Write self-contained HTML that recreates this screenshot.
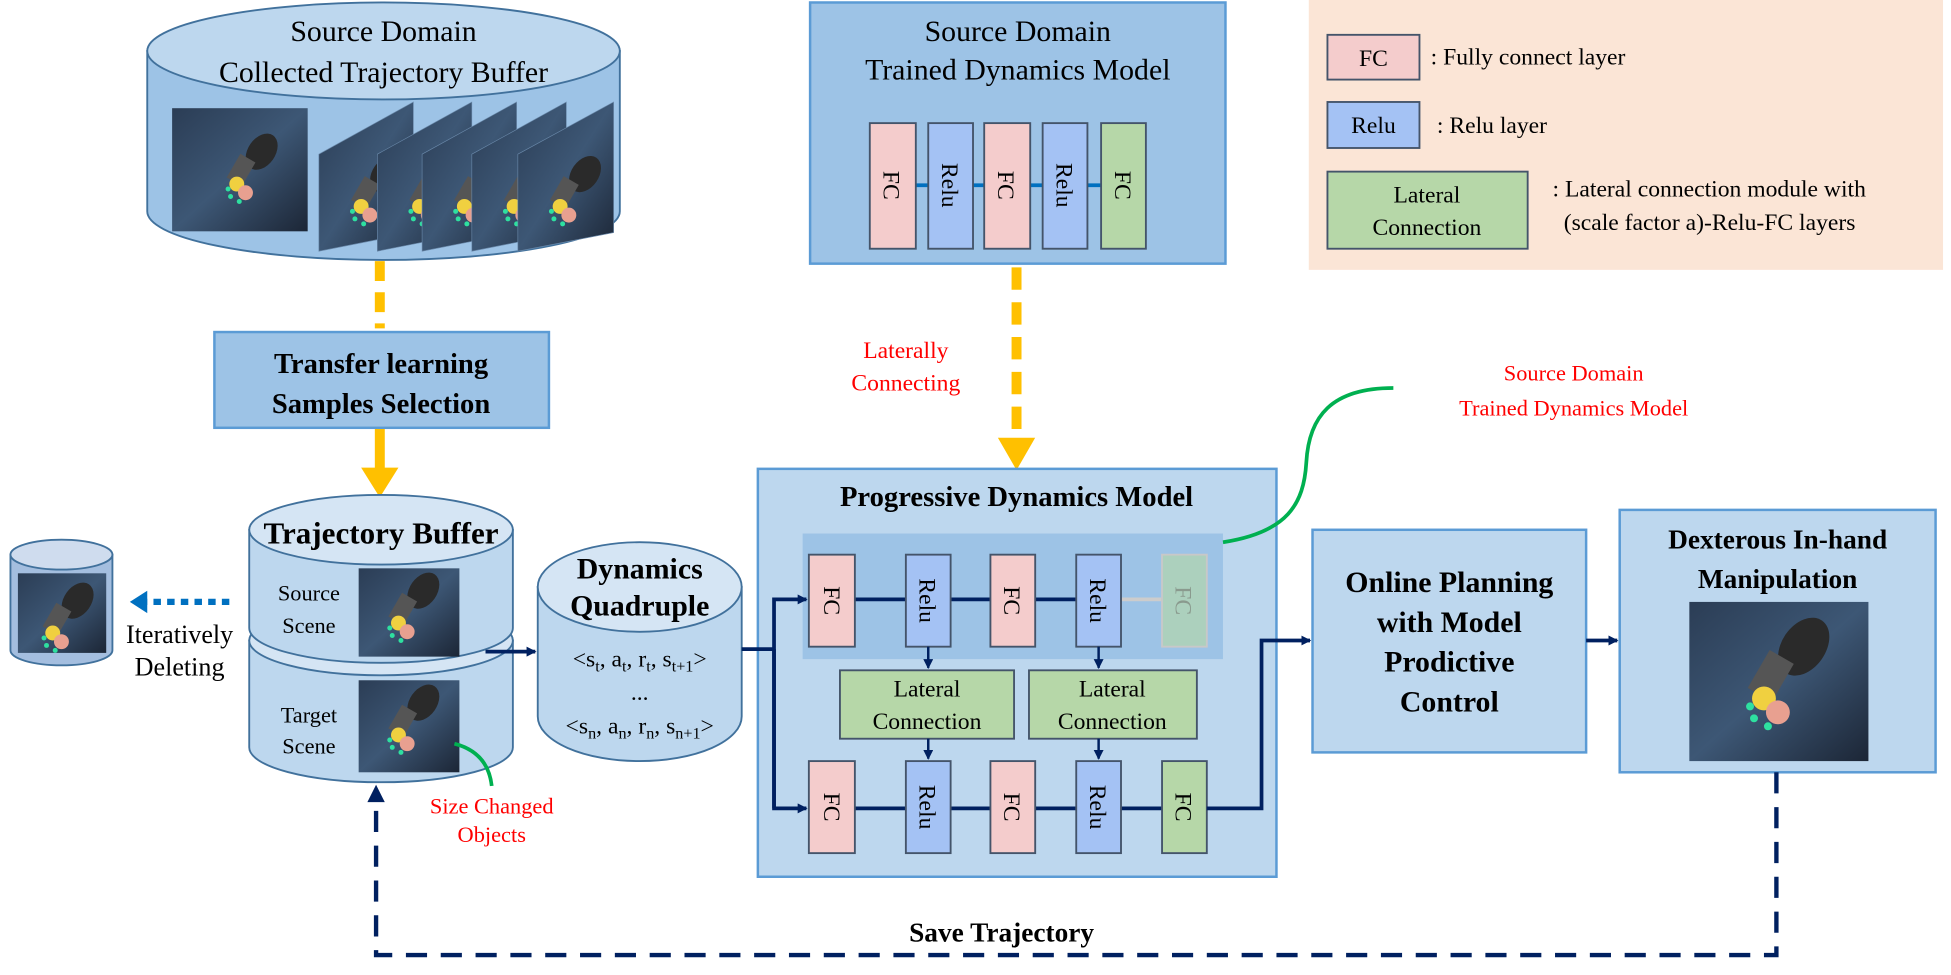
<!DOCTYPE html>
<html><head><meta charset="utf-8"><style>
html,body{margin:0;padding:0;background:#fff;}
svg{display:block;}
text{font-family:"Liberation Serif",serif;}
</style></head><body>
<svg width="1951" height="975" viewBox="0 0 1568 784" xmlns="http://www.w3.org/2000/svg">
<defs>
<linearGradient id="img" x1="0" y1="0" x2="1" y2="1">
<stop offset="0" stop-color="#2b3d55"/><stop offset="0.5" stop-color="#3d5775"/><stop offset="1" stop-color="#1c2636"/>
</linearGradient>
<g id="hand">
<ellipse cx="0" cy="0" rx="11" ry="16" fill="#2a2a2a" transform="rotate(35)"/>
<rect x="-14" y="10" width="14" height="22" fill="#555" transform="rotate(30)"/>
<circle cx="-20" cy="26" r="6" fill="#f0d040"/>
<circle cx="-13" cy="33" r="6" fill="#e8a090"/>
<circle cx="-27" cy="30" r="2" fill="#2ee0a0"/><circle cx="-25" cy="36" r="2" fill="#2ee0a0"/><circle cx="-18" cy="40" r="2" fill="#2ee0a0"/>
</g>
<marker id="ah" markerWidth="8" markerHeight="8" refX="7" refY="4" orient="auto" markerUnits="userSpaceOnUse"><path d="M0,0 L8,4 L0,8 z" fill="#002060"/></marker>
</defs>

<!-- Top cylinder -->
<path d="M118,41 L118,170 A190,39 0 0 0 498,170 L498,41 Z" fill="#9dc3e6" stroke="#41719c" stroke-width="1.5"/>
<ellipse cx="308" cy="41" rx="190" ry="39" fill="#bdd7ee" stroke="#41719c" stroke-width="1.5"/>
<text x="308" y="33" font-size="24" text-anchor="middle">Source Domain</text>
<text x="308" y="66" font-size="24" text-anchor="middle">Collected Trajectory Buffer</text>
<rect x="138" y="87" width="109" height="99" fill="url(#img)"/>
<use href="#hand" x="210" y="122"/>
<g>
<polygon points="256,124 332,82 332,187 256,202" fill="url(#img)" stroke="#6a89aa" stroke-width="0.5"/><use href="#hand" x="310" y="140"/>
<polygon points="303,124 379,82 379,187 303,202" fill="url(#img)" stroke="#6a89aa" stroke-width="0.5"/><use href="#hand" x="357" y="140"/>
<polygon points="339,124 415,82 415,187 339,202" fill="url(#img)" stroke="#6a89aa" stroke-width="0.5"/><use href="#hand" x="393" y="140"/>
<polygon points="379,124 455,82 455,187 379,202" fill="url(#img)" stroke="#6a89aa" stroke-width="0.5"/><use href="#hand" x="433" y="140"/>
<polygon points="416,124 493,82 493,187 416,202" fill="url(#img)" stroke="#6a89aa" stroke-width="0.5"/><use href="#hand" x="470" y="140"/>
</g>

<!-- yellow dashed to transfer box -->
<line x1="305" y1="210" x2="305" y2="264" stroke="#ffc000" stroke-width="8" stroke-dasharray="16,9"/>
<rect x="172" y="267" width="269" height="77" fill="#9dc3e6" stroke="#5b9bd5" stroke-width="2"/>
<text x="306" y="300" font-size="23" font-weight="bold" text-anchor="middle">Transfer learning</text>
<text x="306" y="332" font-size="23" font-weight="bold" text-anchor="middle">Samples Selection</text>
<line x1="305" y1="345" x2="305" y2="378" stroke="#ffc000" stroke-width="8"/>
<polygon points="290,376 320,376 305,400" fill="#ffc000"/>

<!-- small cylinder -->
<path d="M8,446 L8,523 A41,12 0 0 0 90,523 L90,446 Z" fill="#a4bedf" stroke="#41719c" stroke-width="1.5"/>
<ellipse cx="49" cy="446" rx="41" ry="12" fill="#cfdcee" stroke="#41719c" stroke-width="1.5"/>
<rect x="14" y="461" width="71" height="64" fill="url(#img)"/>
<use href="#hand" x="62" y="483"/>
<line x1="184" y1="484" x2="117" y2="484" stroke="#0070c0" stroke-width="5" stroke-dasharray="6,5"/>
<polygon points="118,475 118,493 104,484" fill="#0070c0"/>
<text x="144" y="517" font-size="21" text-anchor="middle">Iteratively</text>
<text x="144" y="543" font-size="21" text-anchor="middle">Deleting</text>

<!-- Trajectory buffer lower cylinder -->
<path d="M200,515 L200,601 A106,28 0 0 0 412,601 L412,515 Z" fill="#bdd7ee" stroke="#41719c" stroke-width="1.5"/>
<ellipse cx="306" cy="515" rx="106" ry="28" fill="#d5e5f4" stroke="#41719c" stroke-width="1.5"/>
<!-- upper cylinder -->
<path d="M200,426 L200,505 A106,28 0 0 0 412,505 L412,426 Z" fill="#bdd7ee" stroke="#41719c" stroke-width="1.5"/>
<ellipse cx="306" cy="426" rx="106" ry="28" fill="#d5e5f4" stroke="#41719c" stroke-width="1.5"/>
<text x="306" y="437" font-size="25" font-weight="bold" text-anchor="middle">Trajectory Buffer</text>
<text x="248" y="483" font-size="18" text-anchor="middle">Source</text>
<text x="248" y="509" font-size="18" text-anchor="middle">Scene</text>
<rect x="288" y="457" width="81" height="71" fill="url(#img)"/>
<use href="#hand" x="340" y="475"/>
<text x="248" y="581" font-size="18" text-anchor="middle">Target</text>
<text x="248" y="606" font-size="18" text-anchor="middle">Scene</text>
<rect x="288" y="547" width="81" height="74" fill="url(#img)"/>
<use href="#hand" x="340" y="565"/>
<path d="M365,598 Q392,605 395,632" fill="none" stroke="#00b050" stroke-width="3"/>
<text x="395" y="654" font-size="18" fill="#ff0000" text-anchor="middle">Size Changed</text>
<text x="395" y="677" font-size="18" fill="#ff0000" text-anchor="middle">Objects</text>

<line x1="390" y1="524" x2="430" y2="524" stroke="#002060" stroke-width="3" marker-end="url(#ah)"/>

<!-- Dynamics quadruple -->
<path d="M432,472 L432,576 A82,36 0 0 0 596,576 L596,472 Z" fill="#bdd7ee" stroke="#41719c" stroke-width="1.5"/>
<ellipse cx="514" cy="472" rx="82" ry="36" fill="#d5e5f4" stroke="#41719c" stroke-width="1.5"/>
<text x="514" y="465" font-size="24" font-weight="bold" text-anchor="middle">Dynamics</text>
<text x="514" y="495" font-size="24" font-weight="bold" text-anchor="middle">Quadruple</text>
<text x="514" y="536" font-size="19" text-anchor="middle">&lt;s<tspan font-size="13" dy="4">t</tspan><tspan dy="-4">, a</tspan><tspan font-size="13" dy="4">t</tspan><tspan dy="-4">, r</tspan><tspan font-size="13" dy="4">t</tspan><tspan dy="-4">, s</tspan><tspan font-size="13" dy="4">t+1</tspan><tspan dy="-4">&gt;</tspan></text>
<text x="514" y="563" font-size="19" text-anchor="middle">...</text>
<text x="514" y="590" font-size="19" text-anchor="middle">&lt;s<tspan font-size="13" dy="4">n</tspan><tspan dy="-4">, a</tspan><tspan font-size="13" dy="4">n</tspan><tspan dy="-4">, r</tspan><tspan font-size="13" dy="4">n</tspan><tspan dy="-4">, s</tspan><tspan font-size="13" dy="4">n+1</tspan><tspan dy="-4">&gt;</tspan></text>

<!-- Top source trained model box -->
<rect x="651" y="2" width="334" height="210" fill="#9dc3e6" stroke="#5b9bd5" stroke-width="2"/>
<text x="818" y="33" font-size="24" text-anchor="middle">Source Domain</text>
<text x="818" y="64" font-size="24" text-anchor="middle">Trained Dynamics Model</text>
<line x1="736" y1="149" x2="885" y2="149" stroke="#0070c0" stroke-width="3"/>
<g stroke="#44546a" stroke-width="1.5">
<rect x="699" y="99" width="37" height="101" fill="#f4cccc"/>
<rect x="746" y="99" width="36" height="101" fill="#a4c2f4"/>
<rect x="791" y="99" width="37" height="101" fill="#f4cccc"/>
<rect x="838" y="99" width="36" height="101" fill="#a4c2f4"/>
<rect x="885" y="99" width="36" height="101" fill="#b6d7a8"/>
</g>
<g font-size="19">
<text transform="translate(710,149) rotate(90)" text-anchor="middle">FC</text>
<text transform="translate(757,149) rotate(90)" text-anchor="middle">Relu</text>
<text transform="translate(802,149) rotate(90)" text-anchor="middle">FC</text>
<text transform="translate(849,149) rotate(90)" text-anchor="middle">Relu</text>
<text transform="translate(896,149) rotate(90)" text-anchor="middle">FC</text>
</g>

<line x1="817" y1="215" x2="817" y2="352" stroke="#ffc000" stroke-width="8" stroke-dasharray="18,10"/>
<polygon points="802,352 832,352 817,378" fill="#ffc000"/>
<text x="728" y="288" font-size="19" fill="#ff0000" text-anchor="middle">Laterally</text>
<text x="728" y="314" font-size="19" fill="#ff0000" text-anchor="middle">Connecting</text>

<!-- Progressive box -->
<rect x="609" y="377" width="417" height="328" fill="#bdd7ee" stroke="#5b9bd5" stroke-width="2"/>
<text x="817" y="407" font-size="23" font-weight="bold" text-anchor="middle">Progressive Dynamics Model</text>
<rect x="645" y="429" width="338" height="101" fill="#9dc3e6"/>
<line x1="687" y1="482" x2="865" y2="482" stroke="#002060" stroke-width="3"/>
<line x1="901" y1="482" x2="934" y2="482" stroke="#cccccc" stroke-width="3"/>
<line x1="687" y1="650" x2="934" y2="650" stroke="#002060" stroke-width="3"/>
<polyline points="596,522 622,522" fill="none" stroke="#002060" stroke-width="3"/>
<polyline points="622,650 622,482 648,482" fill="none" stroke="#002060" stroke-width="3" marker-end="url(#ah)"/>
<polyline points="622,522 622,650 648,650" fill="none" stroke="#002060" stroke-width="3" marker-end="url(#ah)"/>
<g stroke="#44546a" stroke-width="1.5">
<rect x="650" y="446" width="37" height="74" fill="#f4cccc"/>
<rect x="728" y="446" width="36" height="74" fill="#a4c2f4"/>
<rect x="796" y="446" width="36" height="74" fill="#f4cccc"/>
<rect x="865" y="446" width="36" height="74" fill="#a4c2f4"/>
<rect x="934" y="446" width="36" height="74" fill="#acd0bd" stroke="#c8c8c8"/>
<rect x="650" y="612" width="37" height="74" fill="#f4cccc"/>
<rect x="728" y="612" width="36" height="74" fill="#a4c2f4"/>
<rect x="796" y="612" width="36" height="74" fill="#f4cccc"/>
<rect x="865" y="612" width="36" height="74" fill="#a4c2f4"/>
<rect x="934" y="612" width="36" height="74" fill="#b6d7a8"/>
<rect x="675" y="539" width="140" height="55" fill="#b6d7a8"/>
<rect x="827" y="539" width="135" height="55" fill="#b6d7a8"/>
</g>
<g stroke="#002060" stroke-width="2">
<line x1="746" y1="520" x2="746" y2="537" marker-end="url(#ah)"/>
<line x1="746" y1="594" x2="746" y2="610" marker-end="url(#ah)"/>
<line x1="883" y1="520" x2="883" y2="537" marker-end="url(#ah)"/>
<line x1="883" y1="594" x2="883" y2="610" marker-end="url(#ah)"/>
</g>
<g font-size="19">
<text transform="translate(662,483) rotate(90)" text-anchor="middle">FC</text>
<text transform="translate(739,483) rotate(90)" text-anchor="middle">Relu</text>
<text transform="translate(807,483) rotate(90)" text-anchor="middle">FC</text>
<text transform="translate(876,483) rotate(90)" text-anchor="middle">Relu</text>
<text transform="translate(945,483) rotate(90)" text-anchor="middle" fill="#8a9a8e">FC</text>
<text transform="translate(662,649) rotate(90)" text-anchor="middle">FC</text>
<text transform="translate(739,649) rotate(90)" text-anchor="middle">Relu</text>
<text transform="translate(807,649) rotate(90)" text-anchor="middle">FC</text>
<text transform="translate(876,649) rotate(90)" text-anchor="middle">Relu</text>
<text transform="translate(945,649) rotate(90)" text-anchor="middle">FC</text>
<text x="745" y="560" text-anchor="middle">Lateral</text>
<text x="745" y="586" text-anchor="middle">Connection</text>
<text x="894" y="560" text-anchor="middle">Lateral</text>
<text x="894" y="586" text-anchor="middle">Connection</text>
</g>
<polyline points="970,650 1014,650 1014,515 1053,515" fill="none" stroke="#002060" stroke-width="3" marker-end="url(#ah)"/>

<path d="M983,436 C1035,428 1048,405 1050,372 C1052,335 1070,312 1120,312" fill="none" stroke="#00b050" stroke-width="3"/>
<text x="1265" y="306" font-size="18" fill="#ff0000" text-anchor="middle">Source Domain</text>
<text x="1265" y="334" font-size="18" fill="#ff0000" text-anchor="middle">Trained Dynamics Model</text>

<!-- Online planning -->
<rect x="1055" y="426" width="220" height="179" fill="#bdd7ee" stroke="#5b9bd5" stroke-width="2"/>
<g font-size="24" font-weight="bold" text-anchor="middle">
<text x="1165" y="476">Online Planning</text>
<text x="1165" y="508">with Model</text>
<text x="1165" y="540">Prodictive</text>
<text x="1165" y="572">Control</text>
</g>
<line x1="1275" y1="515" x2="1300" y2="515" stroke="#002060" stroke-width="3" marker-end="url(#ah)"/>

<!-- Dexterous -->
<rect x="1302" y="410" width="254" height="211" fill="#bdd7ee" stroke="#5b9bd5" stroke-width="2"/>
<text x="1429" y="441" font-size="22" font-weight="bold" text-anchor="middle">Dexterous In-hand</text>
<text x="1429" y="473" font-size="22" font-weight="bold" text-anchor="middle">Manipulation</text>
<rect x="1358" y="484" width="144" height="128" fill="url(#img)"/>
<g transform="translate(1450,520) scale(1.6)"><use href="#hand"/></g>

<!-- Save trajectory -->
<polyline points="1428,621 1428,768 302,768 302,645" fill="none" stroke="#002060" stroke-width="3.5" stroke-dasharray="17,11"/>
<polygon points="295,645 309,645 302,631" fill="#002060"/>
<text x="805" y="757" font-size="22" font-weight="bold" text-anchor="middle">Save Trajectory</text>

<!-- Legend -->
<rect x="1052" y="0" width="510" height="217" fill="#fbe5d6"/>
<g stroke="#44546a" stroke-width="1.5">
<rect x="1067" y="28" width="74" height="36" fill="#f4cccc"/>
<rect x="1067" y="82" width="74" height="37" fill="#a4c2f4"/>
<rect x="1067" y="138" width="161" height="62" fill="#b6d7a8"/>
</g>
<g font-size="19">
<text x="1104" y="53" text-anchor="middle">FC</text>
<text x="1150" y="52">: Fully connect layer</text>
<text x="1104" y="107" text-anchor="middle">Relu</text>
<text x="1155" y="107">: Relu layer</text>
<text x="1147" y="163" text-anchor="middle">Lateral</text>
<text x="1147" y="189" text-anchor="middle">Connection</text>
<text x="1248" y="158">: Lateral connection module with</text>
<text x="1257" y="185">(scale factor a)-Relu-FC layers</text>
</g>
</svg>
</body></html>
